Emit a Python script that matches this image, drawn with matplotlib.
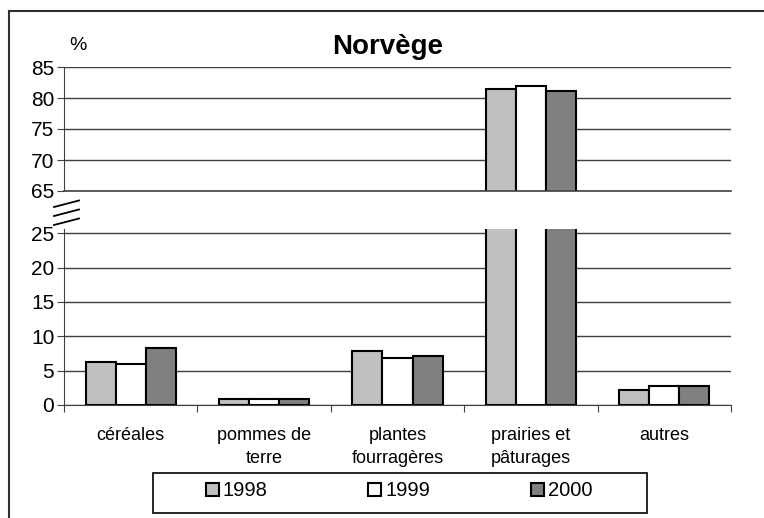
import numpy as np
import matplotlib.pyplot as plt
from matplotlib.lines import Line2D
from matplotlib.patches import Rectangle

plt.rcParams['font.family'] = ['Liberation Sans', 'DejaVu Sans']

categories = ['céréales', 'pommes de\nterre', 'plantes\nfourragères', 'prairies et\npâturages', 'autres']
years = ['1998', '1999', '2000']
v1998 = [6.2, 0.9, 7.9, 81.5, 2.2]
v1999 = [6.0, 0.9, 6.8, 81.9, 2.8]
v2000 = [8.3, 0.9, 7.2, 81.2, 2.8]
colors = ['#c0c0c0', '#ffffff', '#808080']

fig = plt.figure(figsize=(7.64, 5.18), dpi=100)
L, W = 64 / 764, (731 - 64) / 764
ax_top = fig.add_axes([L, 1 - 191 / 518, W, 124 / 518])
ax_bot = fig.add_axes([L, 1 - 405 / 518, W, 176 / 518])

x = np.arange(len(categories))
bw = 0.225
series = [v1998, v1999, v2000]

for ax in (ax_top, ax_bot):
    for i, vals in enumerate(series):
        ax.bar(x + (i - 1) * bw, vals, bw, color=colors[i], edgecolor='black',
               linewidth=1.5, label=years[i], zorder=3)
    ax.set_xlim(-0.5, len(categories) - 0.5)
    for s in ('top', 'right'):
        ax.spines[s].set_visible(False)
    ax.spines['left'].set_color('#404040')
    ax.yaxis.grid(True, color='#404040', linewidth=1)
    ax.set_axisbelow(True)
    ax.tick_params(axis='y', direction='out', length=5, color='#404040', labelsize=15, pad=2)

# upper part 65-85
ax_top.set_ylim(65, 85)
ax_top.set_yticks([65, 70, 75, 80, 85])
ax_top.spines['bottom'].set_visible(False)
ax_top.axhline(65, color='#404040', linewidth=1.2, clip_on=False, zorder=4)
ax_top.set_xticks([])

# lower part 0-25
ax_bot.set_ylim(0, 25.6)
ax_bot.set_yticks([0, 5, 10, 15, 20, 25])
ax_bot.spines['bottom'].set_color('#404040')
ax_bot.set_xticks(np.arange(-0.5, len(categories), 1.0))
ax_bot.set_xticklabels([])
ax_bot.tick_params(axis='x', direction='out', length=5, color='#404040')
for xi, lab in zip(x, categories):
    ax_bot.text(xi, -0.125, lab, transform=ax_bot.get_xaxis_transform(), ha='center',
                va='top', fontsize=13, linespacing=1.45)

# break marks
for k in range(3):
    y0 = 207 + k * 9
    fig.add_artist(Line2D([54 / 764, 79 / 764], [1 - y0 / 518, 1 - (y0 - 6.5) / 518],
                          color='black', linewidth=1.3))

fig.text(388 / 764, 1 - 47 / 518, 'Norvège', ha='center', va='center',
         fontsize=20, fontweight='bold')
fig.text(78 / 764, 1 - 45 / 518, '%', ha='center', va='center', fontsize=14)

# outer border (top and left)
fig.add_artist(Line2D([9 / 764, 9 / 764], [0, 1 - 11 / 518], color='#303030', linewidth=1.5))
fig.add_artist(Line2D([9 / 764, 1], [1 - 11 / 518, 1 - 11 / 518], color='#303030', linewidth=1.5))

# legend box
fig.add_artist(Rectangle((153 / 764, 1 - 513 / 518), (647 - 153) / 764, 40 / 518,
                         transform=fig.transFigure, facecolor='white', edgecolor='black',
                         linewidth=1.2))
handles, labels = ax_bot.get_legend_handles_labels()
leg = fig.legend(handles, labels, ncol=3, loc='center', fontsize=14.5,
                 bbox_to_anchor=(399 / 764, 1 - 491 / 518), frameon=False,
                 handlelength=0.65, handleheight=0.65, handletextpad=0.2,
                 columnspacing=5.0, borderpad=0.2)

fig.savefig('out.png', dpi=100)
